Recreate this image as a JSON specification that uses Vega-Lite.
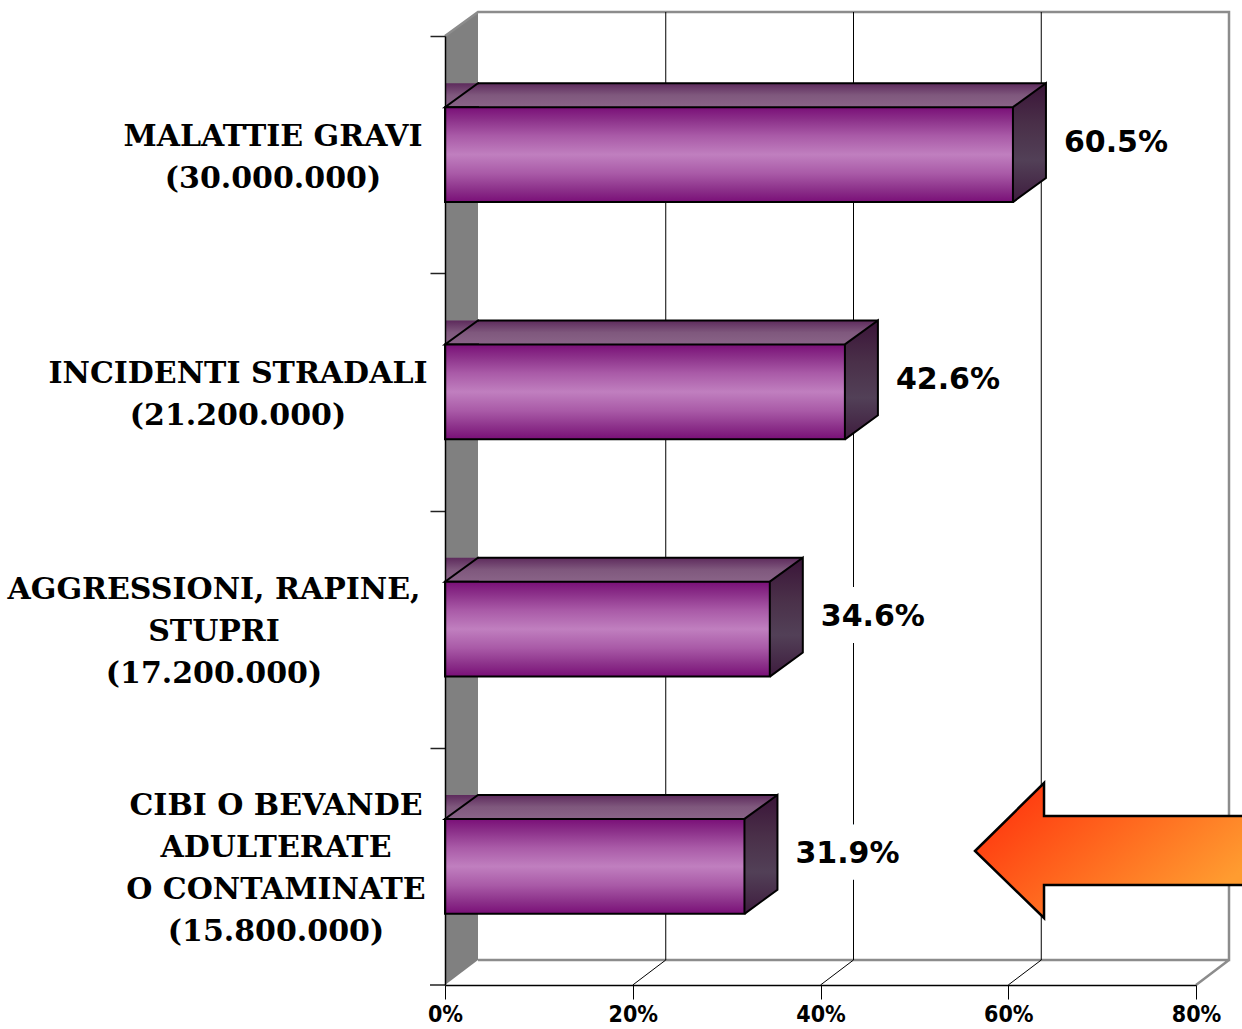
{
  "$schema": "https://vega.github.io/schema/vega-lite/v6.json",
  "width": 751,
  "height": 949,
  "autosize": {"type": "none"},
  "padding": {"left": 445, "top": 36, "right": 46, "bottom": 44},
  "background": "white",
  "config": {"view": {"stroke": null}},
  "datasets": {
    "rischi": [
      {"rischio": "MALATTIE GRAVI|(30.000.000)", "quota": 0.605},
      {"rischio": "INCIDENTI STRADALI|(21.200.000)", "quota": 0.426},
      {"rischio": "AGGRESSIONI, RAPINE,|STUPRI|(17.200.000)", "quota": 0.346},
      {"rischio": "CIBI O BEVANDE|ADULTERATE|O CONTAMINATE|(15.800.000)", "quota": 0.319}
    ],
    "griglia": [{"t": 0.2}, {"t": 0.4}, {"t": 0.6}],
    "origine": [{"t": 0}]
  },
  "layer": [
    {
      "data": {"name": "origine"},
      "mark": {"type": "point", "shape": "M0,-474.5 L33,-498.5 L33,449.5 L0,474.5 Z", "size": 4, "filled": true, "fill": "#808080", "strokeWidth": 0, "opacity": 1},
      "encoding": {"x": {"field": "t", "type": "quantitative", "scale": {"domain": [0, 0.8], "nice": false}}}
    },
    {
      "data": {"name": "origine"},
      "mark": {"type": "point", "shape": "M0,-474.5 L33,-498.5 L784,-498.5 L784,449.5 L33,449.5 M751,474.5 L784,449.5", "size": 4, "filled": false, "fill": "transparent", "stroke": "#8c8c8c", "strokeWidth": 2.5, "opacity": 1},
      "encoding": {"x": {"field": "t", "type": "quantitative", "scale": {"domain": [0, 0.8], "nice": false}}}
    },
    {
      "data": {"name": "origine"},
      "mark": {"type": "point", "shape": "M-15,474.5 L0,474.5", "size": 4, "filled": false, "fill": "transparent", "stroke": "#222222", "strokeWidth": 1.5, "opacity": 1},
      "encoding": {"x": {"field": "t", "type": "quantitative", "scale": {"domain": [0, 0.8], "nice": false}}}
    },
    {
      "data": {"name": "griglia"},
      "mark": {"type": "point", "shape": "M33,-498.5 L33,449.5 L0,474.5", "size": 4, "filled": false, "fill": "transparent", "stroke": "black", "strokeWidth": 1, "opacity": 1},
      "encoding": {"x": {"field": "t", "type": "quantitative", "scale": {"domain": [0, 0.8], "nice": false}}}
    },
    {
      "data": {"name": "rischi"},
      "mark": {"type": "text", "align": "left", "baseline": "middle", "dx": 51, "dy": -12, "font": "DejaVu Sans", "fontWeight": "bold", "fontSize": 30, "fill": "white", "stroke": "white", "strokeWidth": 34, "strokeJoin": "round"},
      "encoding": {
        "y": {"field": "rischio", "type": "nominal", "sort": null},
        "x": {"field": "quota", "type": "quantitative"},
        "text": {"field": "quota", "type": "quantitative", "format": ".1%"}
      }
    },
    {
      "data": {"name": "rischi"},
      "mark": {"type": "bar", "height": 24, "yOffset": -59.45, "x2Offset": 33,
        "fill": {"gradient": "linear", "x1": 0, "y1": 0, "x2": 0, "y2": 1, "stops": [{"offset": 0, "color": "#5d2a5c"}, {"offset": 0.5, "color": "#7f587d"}, {"offset": 1, "color": "#8a6488"}]},
        "strokeWidth": 0},
      "encoding": {
        "y": {"field": "rischio", "type": "nominal", "sort": null},
        "x": {"field": "quota", "type": "quantitative", "stack": null}
      }
    },
    {
      "data": {"name": "rischi"},
      "mark": {"type": "point", "shape": "M34,-47.45 L0,-47.45 L33,-71.45 L34,-71.45", "size": 4, "filled": true, "opacity": 1,
        "fill": {"gradient": "linear", "x1": 0, "y1": 0, "x2": 0, "y2": 1, "stops": [{"offset": 0, "color": "#5d2a5c"}, {"offset": 0.5, "color": "#7f587d"}, {"offset": 1, "color": "#8a6488"}]},
        "stroke": "black", "strokeWidth": 2},
      "encoding": {
        "y": {"field": "rischio", "type": "nominal", "sort": null},
        "x": {"datum": 0, "type": "quantitative"}
      }
    },
    {
      "data": {"name": "rischi"},
      "mark": {"type": "point", "shape": "M-1,-47.45 L-1,-71.45 L33,-71.45 L0,-47.45 Z", "size": 4, "filled": true, "opacity": 1,
        "fill": {"gradient": "linear", "x1": 0, "y1": 0, "x2": 0, "y2": 1, "stops": [{"offset": 0, "color": "#5d2a5c"}, {"offset": 0.5, "color": "#7f587d"}, {"offset": 1, "color": "#8a6488"}]},
        "strokeWidth": 0},
      "encoding": {
        "y": {"field": "rischio", "type": "nominal", "sort": null},
        "x": {"field": "quota", "type": "quantitative"}
      }
    },
    {
      "data": {"name": "rischi"},
      "mark": {"type": "point", "shape": "M0,47.45 L33,23.45 L33,-71.45 L0,-47.45", "size": 4, "filled": true, "opacity": 1,
        "fill": {"gradient": "linear", "x1": 0, "y1": 0, "x2": 0, "y2": 1, "stops": [{"offset": 0, "color": "#3a1438"}, {"offset": 0.35, "color": "#4a3049"}, {"offset": 0.65, "color": "#524057"}, {"offset": 1, "color": "#3e1c3e"}]},
        "stroke": "black", "strokeWidth": 2},
      "encoding": {
        "y": {"field": "rischio", "type": "nominal", "sort": null},
        "x": {"field": "quota", "type": "quantitative"}
      }
    },
    {
      "data": {"name": "rischi"},
      "mark": {"type": "bar",
        "fill": {"gradient": "linear", "x1": 0, "y1": 0, "x2": 0, "y2": 1, "stops": [{"offset": 0, "color": "#7a0f78"}, {"offset": 0.12, "color": "#8a2e88"}, {"offset": 0.3, "color": "#a95aa7"}, {"offset": 0.5, "color": "#c07fbf"}, {"offset": 0.7, "color": "#a95aa7"}, {"offset": 0.88, "color": "#8a2e88"}, {"offset": 1, "color": "#7a0f78"}]},
        "stroke": "black", "strokeWidth": 2},
      "encoding": {
        "y": {
          "field": "rischio", "type": "nominal", "sort": null,
          "scale": {"paddingInner": 0.6, "paddingOuter": 0.3},
          "axis": {
            "title": null, "labels": false, "tickOffset": -118.625, "tickSize": 15, "tickColor": "#222222", "tickWidth": 1.5,
            "domainColor": "black", "domainWidth": 1.5, "grid": false, "zindex": 1
          }
        },
        "x": {
          "field": "quota", "type": "quantitative", "stack": null,
          "scale": {"domain": [0, 0.8], "nice": false},
          "axis": {
            "title": null, "values": [0, 0.2, 0.4, 0.6, 0.8], "format": ".0%", "grid": false, "zindex": 1,
            "tickSize": 14, "tickColor": "black", "tickWidth": 1, "domainColor": "black", "domainWidth": 1.5,
            "labelFont": "DejaVu Sans Condensed", "labelFontWeight": "bold", "labelFontSize": 23,
            "labelPadding": 4, "labelColor": "black", "labelFlush": false
          }
        }
      }
    },
    {
      "data": {"name": "rischi"},
      "mark": {"type": "rule", "stroke": "black", "strokeWidth": 2, "xOffset": 33, "x2Offset": 33, "yOffset": -71.45},
      "encoding": {
        "y": {"field": "rischio", "type": "nominal", "sort": null},
        "x": {"field": "quota", "type": "quantitative"},
        "x2": {"datum": 0}
      }
    },
    {
      "data": {"name": "rischi"},
      "mark": {"type": "text", "align": "left", "baseline": "middle", "dx": 51, "dy": -12, "font": "DejaVu Sans", "fontWeight": "bold", "fontSize": 30, "fill": "black"},
      "encoding": {
        "y": {"field": "rischio", "type": "nominal", "sort": null},
        "x": {"field": "quota", "type": "quantitative"},
        "text": {"field": "quota", "type": "quantitative", "format": ".1%"}
      }
    },
    {
      "data": {"name": "rischi"},
      "mark": {"type": "text", "lineBreak": "|", "align": "center", "baseline": "middle", "font": "DejaVu Serif", "fontWeight": "bold", "fontSize": 30, "lineHeight": 42, "fill": "black",
        "dx": {"expr": "indexof(datum.rischio,'MALATTIE')>=0 ? -172 : indexof(datum.rischio,'INCIDENTI')>=0 ? -207 : indexof(datum.rischio,'AGGRESSIONI')>=0 ? -231 : -169"},
        "dy": {"expr": "3-(length(split(datum.rischio,'|'))-1)*21"}},
      "encoding": {
        "y": {"field": "rischio", "type": "nominal", "sort": null},
        "x": {"datum": 0, "type": "quantitative"},
        "text": {"field": "rischio", "type": "nominal"}
      }
    },
    {
      "data": {"name": "origine"},
      "mark": {"type": "point", "shape": "M0,340.5 L69,272.5 L69,305.5 L275,305.5 L275,374.5 L69,374.5 L69,407.5 Z", "size": 4, "filled": true, "opacity": 1,
        "fill": {"gradient": "linear", "x1": 0, "y1": 0, "x2": 1, "y2": 0.6, "stops": [{"offset": 0, "color": "#ff2a0a"}, {"offset": 1, "color": "#ff9c30"}]},
        "stroke": "black", "strokeWidth": 2.5},
      "encoding": {"x": {"datum": 0.5646, "type": "quantitative"}}
    }
  ]
}
